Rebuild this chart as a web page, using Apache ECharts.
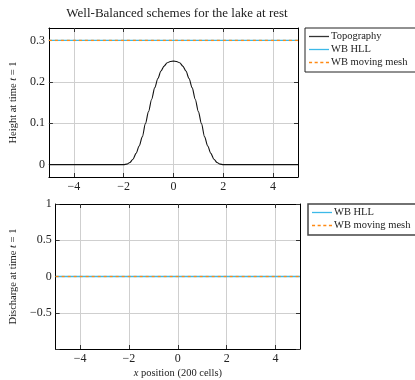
<!DOCTYPE html>
<html><head><meta charset="utf-8">
<script src="https://cdn.jsdelivr.net/npm/echarts@6/dist/echarts.min.js"></script>
<style>html,body{margin:0;padding:0;background:#fff}#c{width:415px;height:380px}</style>
</head><body><div id="c"></div>
<script>
var xPos = [-5,-2,-1.875,-1.75,-1.625,-1.5,-1.375,-1.25,-1.125,-1,-0.875,-0.75,-0.625,-0.5,-0.375,-0.25,-0.125,0,0.125,0.25,0.375,0.5,0.625,0.75,0.875,1,1.125,1.25,1.375,1.5,1.625,1.75,1.875,2,5];
var topography = [0,0,0.001,0.005,0.013,0.027,0.045,0.067,0.099,0.128,0.158,0.186,0.208,0.226,0.238,0.246,0.249,0.25,0.249,0.246,0.238,0.226,0.208,0.186,0.158,0.128,0.099,0.067,0.045,0.027,0.013,0.005,0.001,0,0];
var surfX = [-5,5];
var hllHeight = [0.3,0.3];
var mmHeight = [0.3,0.3];
var hllDischarge = [0,0];
var mmDischarge = [0,0];
var xTicks = [-4,-2,0,2,4];
var hTicks = [0,0.1,0.2,0.3];

function pairs(xs, ys){ return xs.map(function(x,i){return [x, ys[i]];}); }
var FONT = 'Liberation Serif';
var CYAN = '#3cb9e8', ORANGE = '#ff8a14';
var TXT = '#222';
function fmt(v){ var s = String(Math.round(v*100)/100); return s.replace('-', '\u2212'); }
var nameStyle = {fontFamily:FONT, fontSize:10.5, color:TXT, rich:{i:{fontFamily:FONT, fontStyle:'italic', fontSize:10.5, color:TXT}}};
var tickLab = {fontFamily:FONT, fontSize:12, color:TXT};
var SOLID = 'path://M0,0H20V1.3H0Z';
var DASH = 'path://M0,0H3V1.3H0ZM5.5,0H8.5V1.3H5.5ZM11,0H14V1.3H11ZM16.5,0H19.5V1.3H16.5Z';

var chart = echarts.init(document.getElementById('c'), null, {renderer:'canvas'});
var baseX = function(grid, pos, labels, name){
  return {type:'value', gridIndex:grid, position:pos, min:-5, max:5,
    axisLine:{show:true, onZero:false, lineStyle:{color:'#000', width:1}},
    axisTick:{show:true, inside:true, length:4, customValues:xTicks, lineStyle:{color:'#333'}},
    axisLabel:Object.assign({show:labels, customValues:xTicks, formatter:fmt, margin:4}, tickLab),
    splitLine:{show:labels, lineStyle:{color:'#cfcfcf', width:1}},
    name:name||'', nameLocation:'middle', nameGap:19,
    nameTextStyle:nameStyle
  };
};
var legText = {fontFamily:FONT, fontSize:10.5, color:TXT, padding:[0,0,0,-3]};
var option = {
  animation:false,
  title:{text:'Well-Balanced schemes for the lake at rest', left:172, top:2, textAlign:'center',
    textStyle:{fontFamily:FONT, fontSize:13, fontWeight:'normal', color:TXT}},
  grid:[
    {left:46, top:28, width:252, height:149},
    {left:54, top:204, width:246, height:147}
  ],
  legend:[
    {orient:'vertical', left:305, top:28,
     data:[{name:'Topography', icon:SOLID},{name:'WB HLL', icon:SOLID},{name:'WB moving mesh', icon:DASH}],
     borderColor:'#222', borderWidth:1, padding:[3,30,4,4], itemGap:2, itemWidth:20, itemHeight:10,
     textStyle:legText},
    {orient:'vertical', left:308, top:204,
     data:[{name:'WB HLL', icon:SOLID},{name:'WB moving mesh', icon:DASH}],
     borderColor:'#444', borderWidth:1.5, padding:[3,30,4,4], itemGap:2, itemWidth:20, itemHeight:10,
     textStyle:legText}
  ],
  xAxis:[
    baseX(0,'bottom',true),
    baseX(0,'top',false),
    baseX(1,'bottom',true,'{i|x} position (200 cells)'),
    baseX(1,'top',false)
  ],
  yAxis:[
    {type:'value', gridIndex:0, position:'left', min:-0.03, max:0.33,
     axisLine:{show:true, onZero:false, lineStyle:{color:'#000'}},
     axisTick:{show:true, inside:true, length:4, customValues:hTicks, lineStyle:{color:'#333'}},
     axisLabel:Object.assign({customValues:hTicks, formatter:fmt, margin:4}, tickLab),
     splitLine:{show:true, lineStyle:{color:'#cfcfcf'}},
     name:'Height at time {i|t} = 1', nameLocation:'middle', nameGap:28,
     nameTextStyle:nameStyle},
    {type:'value', gridIndex:0, position:'right', min:-0.03, max:0.33,
     axisLine:{show:true, onZero:false, lineStyle:{color:'#000'}},
     axisTick:{show:true, inside:true, length:4, customValues:hTicks, lineStyle:{color:'#333'}},
     axisLabel:{show:false}, splitLine:{show:false}},
    {type:'value', gridIndex:1, position:'left', min:-1, max:1, interval:0.5,
     axisLine:{show:true, onZero:false, lineStyle:{color:'#000'}},
     axisTick:{show:true, inside:true, length:4, lineStyle:{color:'#333'}},
     axisLabel:Object.assign({formatter:function(v){return v===-1?'':fmt(v);}, margin:4}, tickLab),
     splitLine:{show:true, lineStyle:{color:'#cfcfcf'}},
     name:'Discharge at time {i|t} = 1', nameLocation:'middle', nameGap:36,
     nameTextStyle:nameStyle},
    {type:'value', gridIndex:1, position:'right', min:-1, max:1, interval:0.5,
     axisLine:{show:true, onZero:false, lineStyle:{color:'#000'}},
     axisTick:{show:true, inside:true, length:4, lineStyle:{color:'#333'}},
     axisLabel:{show:false}, splitLine:{show:false}}
  ],
  series:[
    {name:'Topography', type:'line', xAxisIndex:0, yAxisIndex:0, data:pairs(xPos, topography), symbol:'none', smooth:0.3, smoothMonotone:'x',
     lineStyle:{color:'#111', width:1.1}, itemStyle:{color:'#333'}},
    {name:'WB HLL', type:'line', xAxisIndex:0, yAxisIndex:0, data:pairs(surfX, hllHeight), symbol:'none',
     lineStyle:{color:CYAN, width:1.3}, itemStyle:{color:CYAN}},
    {name:'WB moving mesh', type:'line', xAxisIndex:0, yAxisIndex:0, data:pairs(surfX, mmHeight), symbol:'none',
     lineStyle:{color:ORANGE, width:1.3, type:[3,3]}, itemStyle:{color:ORANGE}},
    {name:'WB HLL', type:'line', xAxisIndex:2, yAxisIndex:2, data:pairs(surfX, hllDischarge), symbol:'none',
     lineStyle:{color:CYAN, width:1.3}, itemStyle:{color:CYAN}},
    {name:'WB moving mesh', type:'line', xAxisIndex:2, yAxisIndex:2, data:pairs(surfX, mmDischarge), symbol:'none',
     lineStyle:{color:ORANGE, width:1.3, type:[3,3]}, itemStyle:{color:ORANGE}}
  ]
};
chart.setOption(option);
</script></body></html>
